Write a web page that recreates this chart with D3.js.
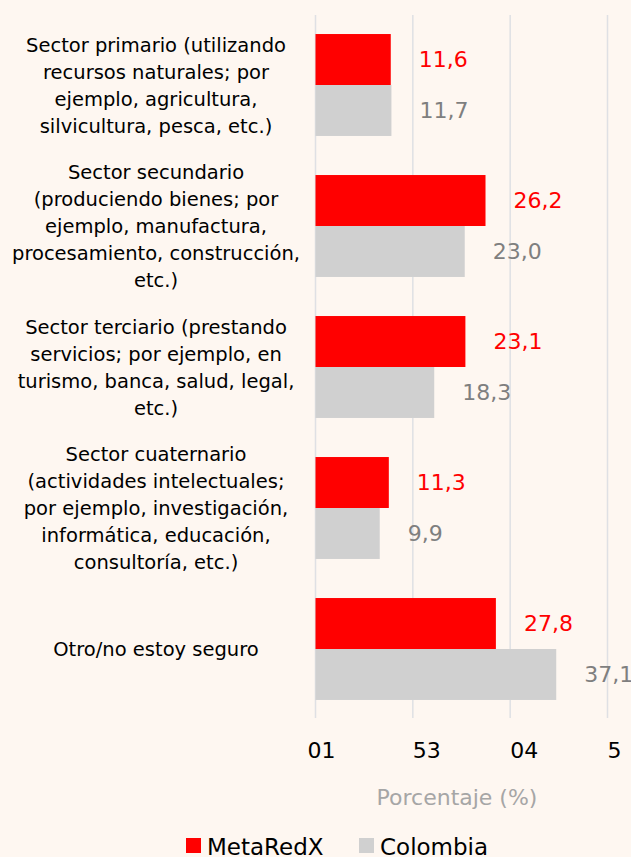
<!DOCTYPE html>
<html>
<head>
<meta charset="utf-8">
<script src="https://cdn.jsdelivr.net/npm/d3@7"></script>
<style>
    html, body { margin: 0; padding: 0; background: #fef7f1; }
    svg { display: block; }
</style>
</head>
<body>
<div id="chart"></div>
<script>
var categories = [
    ['Sector primario (utilizando', 'recursos naturales; por', 'ejemplo, agricultura,', 'silvicultura, pesca, etc.)'],
    ['Sector secundario', '(produciendo bienes; por', 'ejemplo, manufactura,', 'procesamiento, construcción,', 'etc.)'],
    ['Sector terciario (prestando', 'servicios; por ejemplo, en', 'turismo, banca, salud, legal,', 'etc.)'],
    ['Sector cuaternario', '(actividades intelectuales;', 'por ejemplo, investigación,', 'informática, educación,', 'consultoría, etc.)'],
    ['Otro/no estoy seguro']
];
var metaRedX = [11.6, 26.2, 23.1, 11.3, 27.8];
var colombia = [11.7, 23.0, 18.3, 9.9, 37.1];
var seriesNames = ['MetaRedX', 'Colombia'];
var tickValues = [0, 15, 30, 45];
var tickLabels = ['01', '53', '04', '5'];

var width = 631, height = 857;
var font = '"DejaVu Sans", sans-serif';
var colors = {MetaRedX: '#ff0000', Colombia: '#d0d0d0'};
var labelColors = {MetaRedX: '#ff0000', Colombia: '#7f7f7f'};

var svg = d3.select('#chart').append('svg')
        .attr('width', width)
        .attr('height', height);

svg.append('rect').attr('width', width).attr('height', height).attr('fill', '#fef7f1');

var x = d3.scaleLinear().domain([0, 45]).range([315.5, 607.5]);

var y = d3.scaleBand()
        .domain(d3.range(categories.length))
        .range([14.5, 719.5])
        .paddingInner(0.277)
        .paddingOuter(0.1385);

var ySub = d3.scaleBand().domain(seriesNames).range([0, y.bandwidth()]);

// gridlines
svg.append('g').selectAll('line')
        .data(tickValues)
        .join('line')
        .attr('x1', function(d){ return x(d); })
        .attr('x2', function(d){ return x(d); })
        .attr('y1', 15)
        .attr('y2', 718)
        .attr('stroke', '#dfe0e4')
        .attr('stroke-width', 1.5);

// bars
var rows = categories.map(function(c, i){
    return [
        {cat: i, name: 'MetaRedX', value: metaRedX[i]},
        {cat: i, name: 'Colombia', value: colombia[i]}
    ];
});

var groups = svg.append('g').selectAll('g')
        .data(rows)
        .join('g')
        .attr('transform', function(d, i){ return 'translate(0,' + y(i) + ')'; });

groups.selectAll('rect')
        .data(function(d){ return d; })
        .join('rect')
        .attr('x', x(0))
        .attr('y', function(d){ return ySub(d.name); })
        .attr('width', function(d){ return x(d.value) - x(0); })
        .attr('height', ySub.bandwidth())
        .attr('fill', function(d){ return colors[d.name]; });

groups.selectAll('text')
        .data(function(d){ return d; })
        .join('text')
        .attr('x', function(d){ return x(d.value) + 28; })
        .attr('y', function(d){ return ySub(d.name) + ySub.bandwidth() / 2; })
        .attr('dy', '0.36em')
        .attr('fill', function(d){ return labelColors[d.name]; })
        .style('font', '22px ' + font)
        .text(function(d){ return d.value.toFixed(1).replace('.', ','); });

// category labels
var lineH = 27;
var catLabels = svg.append('g').selectAll('text')
        .data(categories)
        .join('text')
        .attr('text-anchor', 'middle')
        .attr('fill', '#000000')
        .style('font', '19.5px ' + font)
        .attr('transform', function(d, i){
            var cy = y(i) + y.bandwidth() / 2 - (d.length - 1) * lineH / 2;
            return 'translate(156,' + cy + ')';
        });

catLabels.selectAll('tspan')
        .data(function(d){ return d; })
        .join('tspan')
        .attr('x', 0)
        .attr('y', function(d, i){ return i * lineH; })
        .attr('dy', '0.36em')
        .text(function(d){ return d; });

// x tick labels
svg.append('g').selectAll('text')
        .data(tickValues)
        .join('text')
        .attr('x', function(d, i){ return x(d) + (i == 0 ? -8 : 0); })
        .attr('y', 758)
        .attr('text-anchor', 'start')
        .attr('fill', '#000000')
        .style('font', '22px ' + font)
        .text(function(d, i){ return tickLabels[i]; });

// axis title
svg.append('text')
        .attr('x', 457)
        .attr('y', 805)
        .attr('text-anchor', 'middle')
        .attr('fill', '#a6a6a6')
        .style('font', '22px ' + font)
        .text('Porcentaje (%)');

// legend
var legendX = [186, 359];
var legend = svg.append('g').selectAll('g')
        .data(seriesNames)
        .join('g')
        .attr('transform', function(d, i){ return 'translate(' + legendX[i] + ',838)'; });

legend.append('rect')
        .attr('width', 15)
        .attr('height', 15)
        .attr('fill', function(d){ return colors[d]; });

legend.append('text')
        .attr('x', 21)
        .attr('y', 17)
        .attr('fill', '#000000')
        .style('font', '23px ' + font)
        .text(function(d){ return d; });
</script>
</body>
</html>
